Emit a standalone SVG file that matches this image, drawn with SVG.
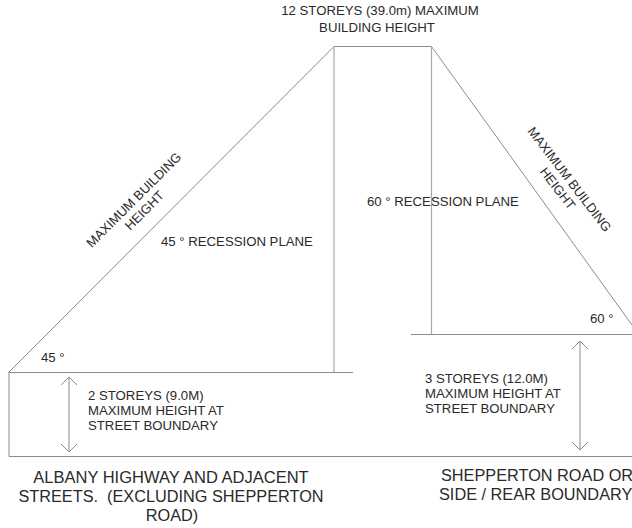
<svg xmlns="http://www.w3.org/2000/svg" width="632" height="528" viewBox="0 0 632 528">
<style>
.l{fill:none;stroke:#8c8c8c;stroke-width:1}
.v{fill:none;stroke:#a8a8a8;stroke-width:1.2}
text{font-family:"Liberation Sans",Arial,sans-serif;fill:#2a2a2a;font-size:13.2px}
.b{font-size:16.3px}
.s{font-size:13px}
.m{text-anchor:middle}
</style>
<rect width="632" height="528" fill="#fff"/>
<g id="connectors">
<path class="l" d="M9 372.500H353M411 334.500H632M9 372V456.500H632M9 372L334 46.500H431.500L632 325"/>
<path class="v" d="M334 46.500V372M431.500 46.500V334.500"/>
<path class="l" d="M69 378V452M61 385L69 377L77 385M61 444L69 452L77 444M580 341V450M572 349L580 341L588 349M572 442L580 450L588 442"/>
</g>
<g id="top-label"><text class="m" x="380" y="15">12 STOREYS (39.0m) MAXIMUM</text><text class="m" x="377" y="32">BUILDING HEIGHT</text></g>
<g id="left-slope-label" transform="translate(137 203) rotate(-45)"><text class="m s" x="0" y="0">MAXIMUM BUILDING</text><text class="m s" x="0" y="15">HEIGHT</text></g>
<g id="right-slope-label" transform="translate(566 182) rotate(52.500)"><text class="m s" x="0" y="0">MAXIMUM BUILDING</text><text class="m s" x="0" y="15">HEIGHT</text></g>
<g id="recession-45"><text x="161" y="246">45 ° RECESSION PLANE</text></g>
<g id="recession-60"><text x="367" y="206">60 ° RECESSION PLANE</text></g>
<g id="angle-45"><text x="41" y="362">45 °</text></g>
<g id="angle-60"><text x="590" y="323">60 °</text></g>
<g id="left-height"><text x="88" y="400">2 STOREYS (9.0M)</text><text x="88" y="415">MAXIMUM HEIGHT AT</text><text x="88" y="430">STREET BOUNDARY</text></g>
<g id="right-height"><text x="425" y="383">3 STOREYS (12.0M)</text><text x="425" y="398">MAXIMUM HEIGHT AT</text><text x="425" y="413">STREET BOUNDARY</text></g>
<g id="left-title"><text class="b m" x="171" y="483" style="font-size:16.500px">ALBANY HIGHWAY AND ADJACENT</text><text class="b m" x="171" y="502" xml:space="preserve">STREETS.  (EXCLUDING SHEPPERTON</text><text class="b m" x="172" y="521">ROAD)</text></g>
<g id="right-title"><text class="b" x="441" y="481">SHEPPERTON ROAD OR</text><text class="b" x="439" y="500">SIDE / REAR BOUNDARY</text></g>
</svg>
